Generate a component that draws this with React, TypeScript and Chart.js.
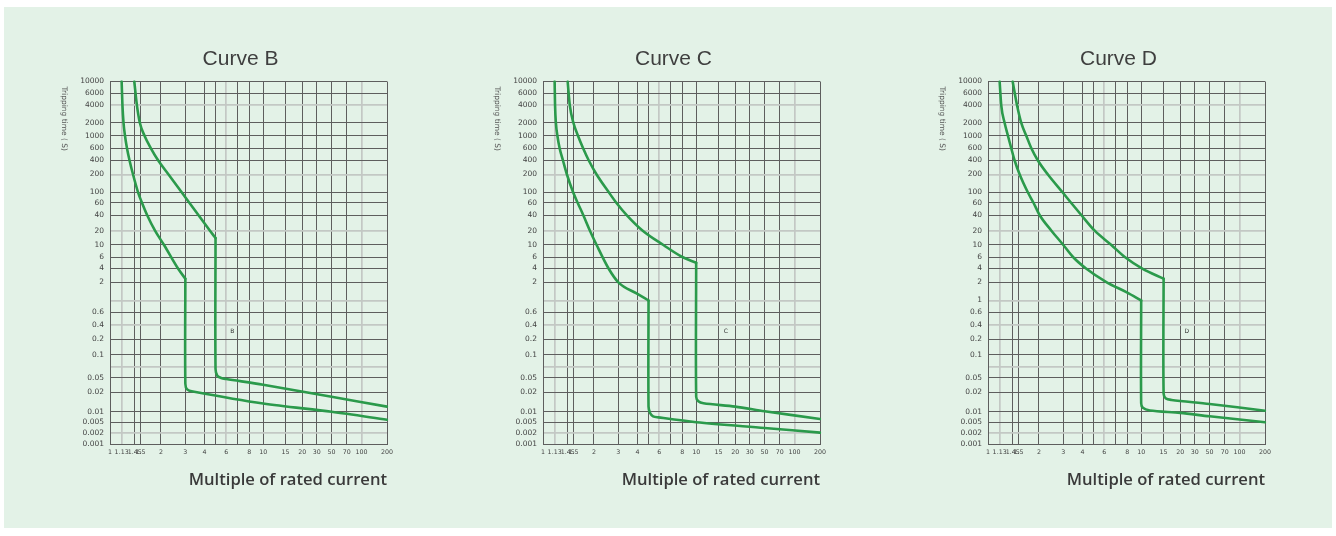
import React, { useEffect, useRef } from 'react';
import { Chart, registerables, Scale } from 'chart.js';

Chart.register(...registerables);

// A scale whose ticks sit at given relative positions (0..1), log-interpolated between them.
class AnchoredScale extends Scale {
  static id = 'anchored';
  static defaults = {};
  determineDataLimits() {
    const v = (this.options as any).anchorValues as number[];
    this.min = v[0];
    this.max = v[v.length - 1];
  }
  buildTicks() {
    const v = (this.options as any).anchorValues as number[];
    return v.map((value) => ({ value }));
  }
  fraction(value: number) {
    const v = (this.options as any).anchorValues as number[];
    const p = (this.options as any).anchorPositions as number[];
    const lv = Math.log10(value);
    let i = 0;
    while (i < v.length - 2 && value > v[i + 1]) i++;
    const a = Math.log10(v[i]);
    const b = Math.log10(v[i + 1]);
    const t = (lv - a) / (b - a);
    return p[i] + t * (p[i + 1] - p[i]);
  }
  getPixelForValue(value: number) {
    const f = this.fraction(value);
    return this.isHorizontal() ? this.left + f * this.width : this.bottom - f * this.height;
  }
  getValueForPixel(pixel: number) {
    const v = (this.options as any).anchorValues as number[];
    const p = (this.options as any).anchorPositions as number[];
    const f = this.isHorizontal() ? (pixel - this.left) / this.width : (this.bottom - pixel) / this.height;
    let i = 0;
    while (i < p.length - 2 && f > p[i + 1]) i++;
    const t = (f - p[i]) / (p[i + 1] - p[i]);
    const a = Math.log10(v[i]);
    const b = Math.log10(v[i + 1]);
    return Math.pow(10, a + t * (b - a));
  }
}
Chart.register(AnchoredScale as any);

// ---------- axes ----------
const X_TICKS = [1, 1.13, 1.45, 1.5, 2, 3, 4, 5, 6, 7, 8, 10, 15, 20, 30, 50, 70, 100, 200];
const X_TICK_LABELS = ['1', '1.13', '1.45', '1.5', '2', '3', '4', '', '6', '', '8', '10', '15', '20', '30', '50', '70', '100', '200'];
const X_TICK_POS = [0, 0.042, 0.089, 0.11, 0.184, 0.272, 0.341, 0.381, 0.42, 0.461, 0.503, 0.553, 0.634, 0.694, 0.746, 0.8, 0.855, 0.908, 1];
const X_LIGHT = [1.13, 6, 100];

const Y_TICKS = [0.001, 0.002, 0.005, 0.01, 0.02, 0.05, 0.07, 0.1, 0.2, 0.4, 0.6, 1, 2, 4, 6, 10, 20, 40, 60, 100, 200, 400, 600, 1000, 2000, 4000, 6000, 10000];
const Y_TICK_LABELS = ['0.001', '0.002', '0.005', '0.01', '0.02', '0.05', '', '0.1', '0.2', '0.4', '0.6', '1', '2', '4', '6', '10', '20', '40', '60', '100', '200', '400', '600', '1000', '2000', '4000', '6000', '10000'];
const Y_TICK_POS = [0, 0.0311, 0.0614, 0.0901, 0.1441, 0.184, 0.2149, 0.2471, 0.2901, 0.3284, 0.3636, 0.3967, 0.4468, 0.4848, 0.5165, 0.5496, 0.589, 0.6322, 0.6653, 0.6948, 0.7438, 0.7824, 0.8154, 0.8499, 0.8857, 0.935, 0.967, 1];
const Y_LIGHT = [4000, 200, 20, 1, 0.4, 0.07, 0.002];

const X_TITLE = 'Multiple of rated current';
const Y_TITLE = 'Tripping time ( S)';

// ---------- curves (multiple of In, seconds) ----------
const B_LOW_X = [1.13, 1.1475, 1.172, 1.206, 1.253, 1.315, 1.406, 1.479, 1.534, 1.646, 1.84, 2.105, 2.656, 3, 3, 3.08, 3.36, 10, 50, 200];
const B_LOW_Y = [10000, 4000, 2000, 1000, 600, 400, 200, 100, 60, 40, 20, 10, 4, 2.4, 0.034, 0.024, 0.021, 0.0134, 0.01, 0.0059];
const B_HIGH_X = [1.44, 1.469, 1.495, 1.59, 1.74, 1.925, 2.269, 2.822, 3.195, 3.65, 4.47, 5, 5, 5.15, 5.5, 6, 10, 50, 200];
const B_HIGH_Y = [10000, 4000, 2000, 1000, 600, 400, 200, 100, 60, 40, 20, 14, 0.065, 0.053, 0.049, 0.046, 0.032, 0.017, 0.012];

const C_LOW_X = [1.13, 1.139, 1.158, 1.192, 1.245, 1.326, 1.43, 1.497, 1.593, 1.72, 1.89, 2.09, 2.55, 3, 3.97, 5, 5, 5.13, 5.4, 5.9, 10, 50, 200];
const C_LOW_Y = [10000, 4000, 2000, 1000, 600, 400, 200, 100, 60, 40, 20, 10, 4, 2, 1.3, 1.0, 0.012, 0.0092, 0.0074, 0.0069, 0.005, 0.0031, 0.0021];
const C_HIGH_X = [1.45, 1.468, 1.5, 1.6, 1.72, 1.86, 2.09, 2.56, 2.91, 3.4, 4.45, 6.34, 8, 10, 10, 10.4, 11.4, 20, 50, 200];
const C_HIGH_Y = [10000, 4000, 2000, 1000, 600, 400, 200, 100, 60, 40, 20, 10, 6, 4.9, 0.017, 0.0145, 0.0135, 0.012, 0.0102, 0.0062];

const D_LOW_X = [1.13, 1.165, 1.244, 1.326, 1.414, 1.467, 1.526, 1.71, 1.855, 2.02, 2.46, 3, 3.47, 4.3, 6.2, 8, 10, 10, 10.3, 11.7, 20, 50, 200];
const D_LOW_Y = [10000, 4000, 2000, 1000, 600, 400, 200, 100, 60, 40, 20, 10, 6, 4, 2, 1.35, 1.0, 0.0135, 0.0115, 0.0105, 0.0093, 0.0074, 0.005];
const D_HIGH_X = [1.45, 1.487, 1.56, 1.676, 1.8, 1.97, 2.32, 2.96, 3.38, 3.93, 5.1, 6.6, 7.77, 10.2, 15, 15, 15.6, 17.2, 50, 200];
const D_HIGH_Y = [10000, 4000, 2000, 1000, 600, 400, 200, 100, 60, 40, 20, 10, 6, 4, 2.4, 0.019, 0.016, 0.0152, 0.0132, 0.0104];

const PANELS = [
  { title: 'Curve B', letter: 'B', letterAt: [6.5, 0.3], hideOne: true, plotLeft: 110, curves: [[B_LOW_X, B_LOW_Y], [B_HIGH_X, B_HIGH_Y]] },
  { title: 'Curve C', letter: 'C', letterAt: [17, 0.3], hideOne: true, plotLeft: 543.3, curves: [[C_LOW_X, C_LOW_Y], [C_HIGH_X, C_HIGH_Y]] },
  { title: 'Curve D', letter: 'D', letterAt: [24, 0.3], hideOne: false, plotLeft: 988.3, curves: [[D_LOW_X, D_LOW_Y], [D_HIGH_X, D_HIGH_Y]] },
];

const GREEN = '#2b9a4b';
const DARK = '#5e5e5e';
const LIGHT = '#c3c8c4';
const Y_AXIS_W = 90;
const PLOT_W = 277;
const PAD_R = 30;
const CANVAS_W = Y_AXIS_W + PLOT_W + PAD_R;
const CANVAS_H = 475;
const CANVAS_TOP = 20;

// Each curve is drawn as two datasets: the smooth thermal part (down to the knee)
// and the magnetic part (vertical drop + tail), split where x repeats.
function curveDatasets(xs: number[], ys: number[]) {
  let k = 0;
  while (k < xs.length - 1 && xs[k] !== xs[k + 1]) k++;
  const pts = xs.map((x, i) => ({ x, y: ys[i] }));
  const base = { borderColor: GREEN, borderWidth: 2.6, pointRadius: 0, fill: false, borderCapStyle: 'round', borderJoinStyle: 'round' };
  return [
    { ...base, data: pts.slice(0, k + 1), cubicInterpolationMode: 'monotone' },
    { ...base, data: pts.slice(k), tension: 0.3 },
  ];
}

function Panel({ panel }: { panel: any }) {
  const ref = useRef<HTMLCanvasElement>(null);
  useEffect(() => {
    const textPlugin = {
      id: 'panelText',
      afterDraw(chart: any) {
        const { ctx, chartArea: a, scales } = chart;
        ctx.save();
        ctx.fillStyle = '#3f3f3f';
        ctx.font = '21px "Liberation Sans", Arial, sans-serif';
        ctx.textAlign = 'center';
        ctx.textBaseline = 'middle';
        ctx.fillText(panel.title, (a.left + a.right) / 2 - 8, a.top - 22);
        ctx.fillStyle = '#333';
        ctx.font = '6px "DejaVu Sans", sans-serif';
        ctx.fillText(panel.letter, scales.x.getPixelForValue(panel.letterAt[0]), scales.y.getPixelForValue(panel.letterAt[1]));
        ctx.translate(a.left - 46, a.top + 5);
        ctx.rotate(Math.PI / 2);
        ctx.fillStyle = '#555';
        ctx.font = '7.5px "DejaVu Sans", sans-serif';
        ctx.textAlign = 'left';
        ctx.fillText(Y_TITLE, 0, 0);
        ctx.restore();
      },
    };
    const chart = new Chart(ref.current as HTMLCanvasElement, {
      type: 'line',
      data: {
        datasets: panel.curves.flatMap((c: number[][]) => curveDatasets(c[0], c[1])),
      },
      options: {
        responsive: false,
        animation: false,
        events: [],
        layout: { padding: { top: 61.5, right: PAD_R, bottom: 0, left: 0 } },
        plugins: { legend: { display: false }, tooltip: { enabled: false }, title: { display: false } },
        scales: {
          x: {
            type: 'anchored',
            position: 'bottom',
            anchorValues: X_TICKS,
            anchorPositions: X_TICK_POS,
            afterFit: (s: any) => { s.height = 50.5; },
            grid: {
              drawTicks: false,
              color: (c: any) => (X_LIGHT.includes(c.tick?.value) ? LIGHT : DARK),
              lineWidth: (c: any) => (X_LIGHT.includes(c.tick?.value) ? 1.7 : 1),
            },
            border: { color: DARK, width: 1 },
            ticks: {
              autoSkip: false, maxRotation: 0, minRotation: 0, padding: 4, color: '#444',
              font: { family: '"DejaVu Sans", sans-serif', size: 6.3 },
              callback: (_v: any, i: number) => X_TICK_LABELS[i],
            },
            title: {
              display: true, text: X_TITLE, align: 'end', color: '#3a3a3a',
              font: { family: '"Open Sans", sans-serif', size: 16.6, weight: '600' },
              padding: { top: 0, bottom: 5 },
            },
          } as any,
          y: {
            type: 'anchored',
            position: 'left',
            anchorValues: Y_TICKS,
            anchorPositions: Y_TICK_POS,
            afterFit: (s: any) => { s.width = Y_AXIS_W; },
            grid: {
              drawTicks: false,
              color: (c: any) => (Y_LIGHT.includes(c.tick?.value) ? LIGHT : DARK),
              lineWidth: (c: any) => (Y_LIGHT.includes(c.tick?.value) ? 1.7 : 1),
            },
            border: { color: DARK, width: 1 },
            ticks: {
              autoSkip: false, padding: 6, color: '#444',
              font: { family: '"DejaVu Sans", sans-serif', size: 7.5 },
              callback: (v: any, i: number) => (panel.hideOne && Y_TICKS[i] === 1 ? '' : Y_TICK_LABELS[i]),
            },
          } as any,
        },
      } as any,
      plugins: [textPlugin],
    });
    return () => chart.destroy();
  }, []);
  return (
    <canvas
      ref={ref}
      width={CANVAS_W}
      height={CANVAS_H}
      style={{ position: 'absolute', left: panel.plotLeft - Y_AXIS_W, top: CANVAS_TOP, width: CANVAS_W, height: CANVAS_H }}
    />
  );
}

export default function App() {
  return (
    <div style={{ position: 'relative', width: 1336, height: 536, background: '#ffffff', overflow: 'hidden' }}>
      <style>{'html,body{margin:0;padding:0;background:#fff}'}</style>
      <div style={{ position: 'absolute', left: 4, top: 7, width: 1328, height: 521, background: '#e3f2e7' }} />
      {PANELS.map((p) => (
        <Panel key={p.title} panel={p} />
      ))}
    </div>
  );
}
